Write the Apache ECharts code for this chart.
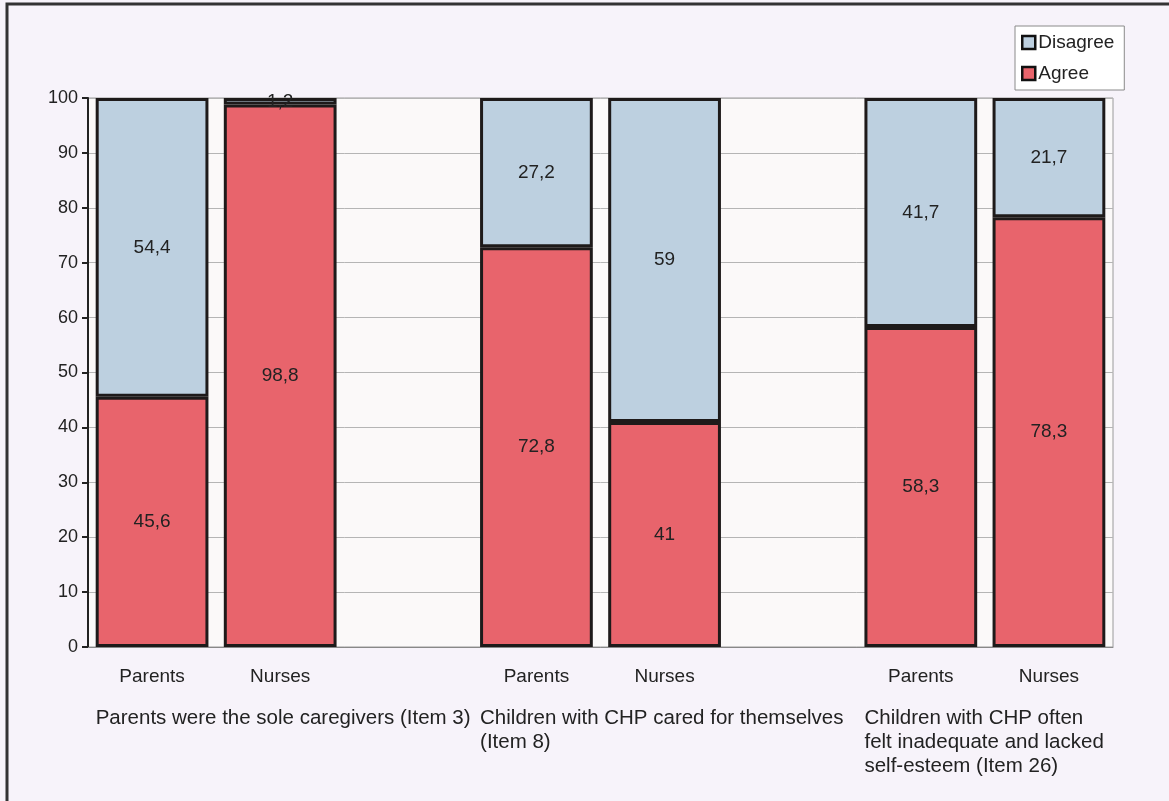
<!DOCTYPE html>
<html>
<head>
<meta charset="utf-8">
<script src="https://cdn.jsdelivr.net/npm/echarts@6/dist/echarts.min.js"></script>
<style>
html,body{margin:0;padding:0;background:#f7f3fa;}
#chart{width:1169px;height:801px;}
</style>
</head>
<body>
<div id="chart"></div>
<script>
// ---- data ----
const categories = ['Parents', 'Nurses', '', 'Parents', 'Nurses', '', 'Parents', 'Nurses'];
const agreeValues = [45.6, 98.8, '-', 72.8, 41, '-', 58.3, 78.3];
const disagreeValues = [54.4, 1.2, '-', 27.2, 59, '-', 41.7, 21.7];
const groupLabels = [
  'Parents were the sole caregivers (Item 3)',
  'Children with CHP cared for themselves\n(Item 8)',
  'Children with CHP often\nfelt inadequate and lacked\nself-esteem (Item 26)'
];
const groupStartIndex = [0, 3, 6];
const yTicks = [0, 10, 20, 30, 40, 50, 60, 70, 80, 90, 100];

const FONT = '"Liberation Sans", Arial, sans-serif';
const FS = 19;
const chart = echarts.init(document.getElementById('chart'));

const fmt = p => String(p.value).replace('.', ',');
const BAR_W = '88%';

const option = {
  backgroundColor: '#f7f3fa',
  animation: false,
  textStyle: { fontFamily: FONT },
  grid: {
    left: 88, right: 56, top: 98, bottom: 154,
    show: true, backgroundColor: '#fbf9f9', borderColor: '#9a9a9a', borderWidth: 1
  },
  legend: {
    data: ['Disagree', 'Agree'],
    orient: 'vertical',
    left: 1015, top: 26,
    backgroundColor: '#ffffff',
    borderColor: '#8a8a8a', borderWidth: 1,
    padding: [7, 10, 7, 6],
    itemGap: 12,
    itemWidth: 13, itemHeight: 13,
    icon: 'rect',
    itemStyle: { borderColor: '#111', borderWidth: 2.5 },
    textStyle: { fontSize: FS, color: '#222', fontFamily: FONT, padding: [0, 0, 0, -2] }
  },
  xAxis: {
    type: 'category',
    data: categories,
    axisLine: { show: true, lineStyle: { color: '#888', width: 1 } },
    axisTick: { show: false },
    axisLabel: { interval: 0, margin: 20, fontSize: FS, color: '#222', fontFamily: FONT }
  },
  yAxis: {
    type: 'value',
    min: yTicks[0], max: yTicks[yTicks.length - 1], interval: 10,
    axisLine: { show: true, lineStyle: { color: '#222', width: 2 } },
    axisTick: { show: true, length: 6, lineStyle: { color: '#222', width: 2 } },
    axisLabel: { fontSize: 18, color: '#222', margin: 10, fontFamily: FONT },
    splitLine: { show: true, lineStyle: { color: '#b5b5b5', width: 1 } }
  },
  series: [
    {
      name: 'Agree', type: 'bar', stack: 'total', barWidth: BAR_W,
      data: agreeValues,
      itemStyle: { color: '#e8646c', borderColor: '#1e1a1a', borderWidth: 3 },
      label: { show: true, position: 'inside', formatter: fmt, fontSize: FS, color: '#222', fontFamily: FONT }
    },
    {
      name: 'Disagree', type: 'bar', stack: 'total', barWidth: BAR_W,
      data: disagreeValues,
      itemStyle: { color: '#bdd0e0', borderColor: '#1e1a1a', borderWidth: 3 },
      label: { show: true, position: 'inside', formatter: fmt, fontSize: FS, color: '#222', fontFamily: FONT }
    }
  ]
};
chart.setOption(option);

// group labels placed through the category axis scale
const x0 = chart.convertToPixel({ xAxisIndex: 0 }, 0);
const x1 = chart.convertToPixel({ xAxisIndex: 0 }, 1);
const slot = x1 - x0;
const halfBar = slot * 0.88 / 2;
const yBase = chart.convertToPixel({ yAxisIndex: 0 }, 0);
const graphics = groupLabels.map((t, i) => ({
  type: 'text',
  left: chart.convertToPixel({ xAxisIndex: 0 }, groupStartIndex[i]) - halfBar,
  top: yBase + 59,
  style: { text: t, fontSize: 20.5, lineHeight: 24, fill: '#222', fontFamily: FONT }
}));
graphics.push({
  type: 'rect', silent: true,
  shape: { x: 7, y: 4, width: 1250, height: 900 },
  style: { fill: 'none', stroke: '#333', lineWidth: 3 }
});
chart.setOption({ graphic: graphics });
</script>
</body>
</html>
